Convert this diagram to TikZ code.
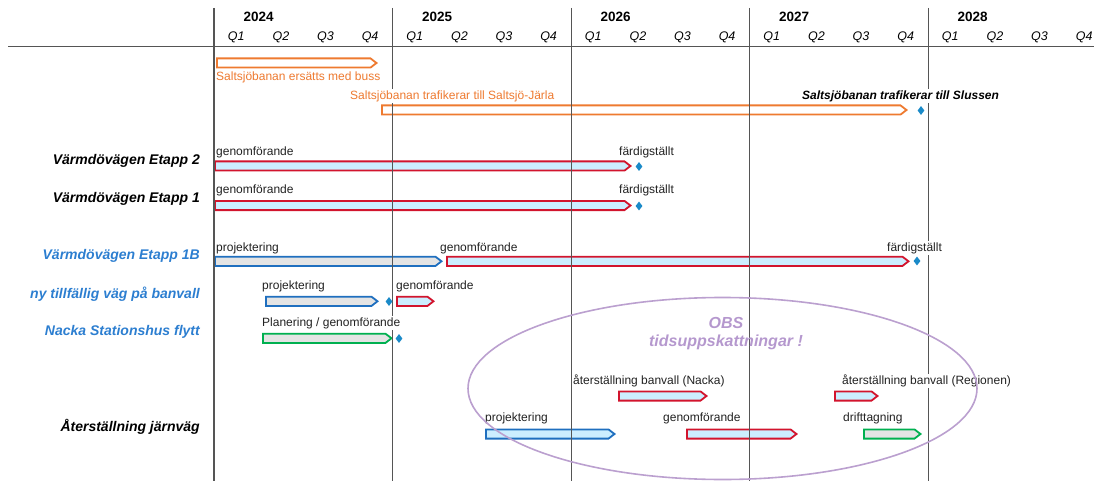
\documentclass[tikz,border=0pt]{standalone}
\usepackage{fontspec}
\setmainfont{Liberation Sans}
\usetikzlibrary{shapes.geometric}
\definecolor{orng}{HTML}{EE7A30}
\definecolor{rd}{HTML}{D2142D}
\definecolor{lblue}{HTML}{CCEEFF}
\definecolor{bl}{HTML}{1F6FBF}
\definecolor{gfill}{HTML}{E4E4E4}
\definecolor{gr}{HTML}{00B050}
\definecolor{msblue}{HTML}{1A8AC8}
\definecolor{rowblue}{HTML}{2C7ED0}
\definecolor{lav}{HTML}{BBA0CF}
\definecolor{lavtxt}{HTML}{B598CE}
\definecolor{txtgray}{HTML}{222222}
\definecolor{gridgray}{HTML}{555555}
\newcommand\gbar[4]{\draw[#1] ({#2+0.9},{#4-4.6}) -- ({#3-7.5},{#4-4.6}) -- ({#3-1.5},{#4}) -- ({#3-7.5},{#4+4.6}) -- ({#2+0.9},{#4+4.6}) -- cycle;}
\tikzset{
  barbase/.style={line width=1.8pt, line join=miter},
  obar/.style={barbase, draw=orng, fill=white},
  rbar/.style={barbase, draw=rd, fill=lblue},
  bbar/.style={barbase, draw=bl, fill=gfill},
  bbarl/.style={barbase, draw=bl, fill=lblue},
  gbarst/.style={barbase, draw=gr, fill=gfill},
  lbl/.style={anchor=west, fill=white, inner sep=1pt, text=txtgray, font=\fontsize{12}{12}\selectfont},
  olbl/.style={lbl, text=orng},
  rowlbl/.style={anchor=east, inner sep=0pt, font=\fontsize{14}{14}\selectfont\bfseries\itshape},
  yr/.style={inner sep=0pt, font=\fontsize{13.5}{13.5}\selectfont\bfseries},
  qt/.style={inner sep=0pt, font=\fontsize{12.5}{12.5}\selectfont\itshape},
  ms/.style={diamond, fill=msblue, inner sep=0pt, minimum width=7pt, minimum height=9pt},
  vline/.style={draw=gridgray, line width=1pt},
  obs/.style={text=lavtxt, inner sep=0pt, font=\fontsize{16}{16}\selectfont\bfseries\itshape}
}
\begin{document}
\begin{tikzpicture}[x=1pt,y=-1pt]
\useasboundingbox (0,0) rectangle (1094,481);
% bars
\gbar{obar}{216}{378}{63}
\gbar{obar}{381}{908}{110}
\gbar{rbar}{214}{632}{166}
\gbar{rbar}{214}{632}{205.5}
\gbar{bbar}{214}{443}{261.3}
\gbar{rbar}{446}{910}{261.3}
\gbar{bbar}{265}{379}{301.3}
\gbar{rbar}{396}{435}{301.3}
\gbar{gbarst}{262}{393}{338.3}
\gbar{rbar}{618}{708}{396}
\gbar{rbar}{834}{879}{396}
\gbar{bbarl}{485}{616}{434}
\gbar{rbar}{686}{798}{434}
\gbar{gbarst}{863}{922}{434}
% grid
\draw[draw=gridgray, line width=1.6pt] (8,46.5) -- (1094,46.5);
\draw[draw=gridgray, line width=1.6pt] (214,8) -- (214,481);
\foreach \xx in {392.5,571,749.5,928} \draw[vline] (\xx,8) -- (\xx,481);
% header
\node[yr] (y2024) at (258.6,17) {2024};
\node[yr] (y2025) at (437.1,17) {2025};
\node[yr] (y2026) at (615.6,17) {2026};
\node[yr] (y2027) at (794.1,17) {2027};
\node[yr] (y2028) at (972.6,17) {2028};
\foreach \yy [count=\i from 0] in {214,392.5,571,749.5,928}{
  \foreach \q in {1,2,3,4}{
    \node[qt] (q\i-\q) at ({\yy+44.6*(\q-0.5)},37) {Q\q};
  }
}
% row labels
\node[rowlbl] (r1) at (200,161) {Värmdövägen Etapp 2};
\node[rowlbl] (r2) at (200,198.5) {Värmdövägen Etapp 1};
\node[rowlbl, text=rowblue] (r3) at (200,256) {Värmdövägen Etapp 1B};
\node[rowlbl, text=rowblue] (r4) at (200,294) {ny tillfällig väg på banvall};
\node[rowlbl, text=rowblue] (r5) at (200,331.5) {Nacka Stationshus flytt};
\node[rowlbl] (r6) at (200,427) {Återställning järnväg};
% bar labels
\node[olbl] (l1) at (215,77) {Saltsjöbanan ersätts med buss};
\node[olbl] (l2) at (349,96) {Saltsjöbanan trafikerar till Saltsjö-Järla};
\node[lbl, font=\fontsize{12}{12}\selectfont\bfseries\itshape, text=black] (l3) at (801,96) {Saltsjöbanan trafikerar till Slussen};
\node[lbl] (l4) at (215,152.5) {genomförande};
\node[lbl] (l5) at (618,152.5) {färdigställt};
\node[lbl] (l6) at (215,190.5) {genomförande};
\node[lbl] (l7) at (618,190.5) {färdigställt};
\node[lbl] (l8) at (215,248) {projektering};
\node[lbl] (l9) at (439,248) {genomförande};
\node[lbl] (l10) at (886,248) {färdigställt};
\node[lbl] (l11) at (261,286) {projektering};
\node[lbl] (l12) at (395,286) {genomförande};
\node[lbl] (l13) at (261,323) {Planering / genomförande};
\node[lbl] (l14) at (572,381) {återställning banvall (Nacka)};
\node[lbl] (l15) at (841,381) {återställning banvall (Regionen)};
\node[lbl] (l16) at (484,418) {projektering};
\node[lbl] (l17) at (662,418) {genomförande};
\node[lbl] (l18) at (842,418) {drifttagning};
% milestones
\node[ms] (m1) at (921,110.5) {};
\node[ms] (m2) at (639,166.5) {};
\node[ms] (m3) at (639,206) {};
\node[ms] (m4) at (917,261) {};
\node[ms] (m5) at (389,301.5) {};
\node[ms] (m6) at (399,338.5) {};
% ellipse
\draw[draw=lav, line width=1.6pt] (722.5,388.5) ellipse [x radius=254.5, y radius=91];
\node[obs] (obs1) at (726,323) {OBS};
\node[obs] (obs2) at (726,342) {tidsuppskattningar !};
\end{tikzpicture}
\end{document}
